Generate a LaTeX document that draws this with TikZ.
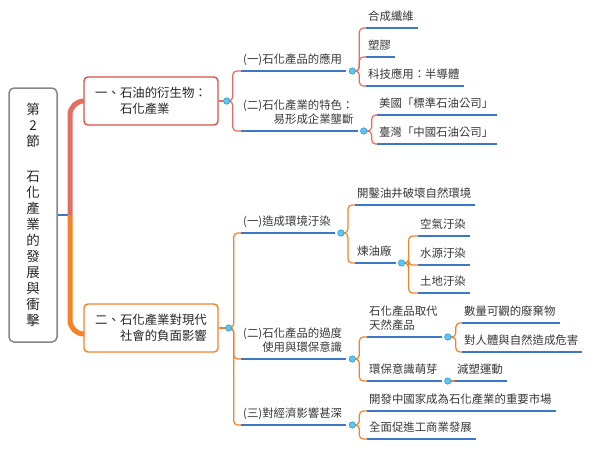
\documentclass[tikz,border=0pt]{standalone}
\usepackage{fontspec}
\setmainfont{Noto Sans CJK TC}
\definecolor{rbr}{RGB}{226,110,95}
\definecolor{rbox}{RGB}{214,82,70}
\definecolor{obr}{RGB}{245,130,40}
\definecolor{uline}{RGB}{60,120,200}
\definecolor{dotin}{RGB}{95,198,242}
\definecolor{dotrim}{RGB}{45,155,222}
\definecolor{rootgray}{RGB}{135,135,135}

\begin{document}
\begin{tikzpicture}[x=1pt,y=-1pt,
  rootbox/.style={draw=rootgray,line width=1.5pt,rounded corners=5pt,minimum width=48pt,minimum height=254pt,align=center,font=\fontsize{13.5}{16}\selectfont,text=black!85},
  mainbox/.style={line width=1.4pt,rounded corners=4pt,minimum width=134pt,minimum height=48pt,align=left,font=\fontsize{12.4}{16.5}\selectfont,text=black!85,fill=white},
  topic/.style={anchor=south west,inner xsep=2pt,inner ysep=6pt,text depth=1.5pt,font=\fontsize{11.4}{13.5}\selectfont,text=black!78},
  ul/.style={draw=uline,line width=2pt},
  rc/.style={draw=rbr,line width=1.2pt,rounded corners=4pt},
  oc/.style={draw=obr,line width=1.2pt,rounded corners=4pt},
  dot/.style={fill=dotin,draw=dotrim,line width=.6pt}]
\path[use as bounding box,fill=white] (0,0) rectangle (600,453);

\node[rootbox] (root) at (33,215) {第\\2\\節\\[19pt]石\\化\\產\\業\\的\\發\\展\\與\\衝\\擊};
\node[mainbox,draw=rbox] (n1) at (151,101) {一、石油的衍生物：\\\hspace*{2em}石化產業};
\node[mainbox,draw=obr] (n2) at (151,328) {二、石化產業對現代\\\hspace*{2em}社會的負面影響};

\node[topic] (s1) at (241,71) {(一)石化產品的應用};
\node[topic,align=right] (s2) at (241,131) {(二)石化產業的特色：\\易形成企業壟斷};
\node[topic] (s3) at (241,233) {(一)造成環境汙染};
\node[topic,align=right] (s4) at (241,359) {(二)石化產品的過度\\使用與環保意識};
\node[topic] (s5) at (241,425) {(三)對經濟影響甚深};

\node[topic] (l1) at (366,28) {合成纖維};
\node[topic] (l2) at (366,57) {塑膠};
\node[topic] (l3) at (366,86) {科技應用：半導體};
\node[topic] (l4) at (377,115) {美國「標準石油公司」};
\node[topic] (l5) at (377,144) {臺灣「中國石油公司」};
\node[topic] (l6) at (355,205) {開鑿油井破壞自然環境};
\node[topic] (l7) at (355,263) {煉油廠};
\node[topic] (l8) at (418,236) {空氣汙染};
\node[topic] (l9) at (418,265) {水源汙染};
\node[topic] (l10) at (418,293) {土地汙染};
\node[topic,align=left] (l11) at (367,337) {石化產品取代\\天然產品};
\node[topic] (l12) at (462,323) {數量可觀的廢棄物};
\node[topic] (l13) at (462,352) {對人體與自然造成危害};
\node[topic] (l14) at (367,381) {環保意識萌芽};
\node[topic] (l15) at (455,381) {減塑運動};
\node[topic] (l16) at (367,411) {開發中國家成為石化產業的重要市場};
\node[topic] (l17) at (367,439) {全面促進工商業發展};

\coordinate (t) at (70,215);
\coordinate (a1) at ([xshift=8pt]n1.east);
\coordinate (a2) at ([xshift=10pt]n2.east);
\coordinate (b1) at ([xshift=8pt]s1.south east);
\coordinate (b2) at ([xshift=8pt]s2.south east);
\coordinate (b3) at ([xshift=8pt]s3.south east);
\coordinate (b4) at ([xshift=8pt]l7.south east);
\coordinate (b5) at ([xshift=8pt]s4.south east);
\coordinate (b6) at ([xshift=8pt]l11.south east);
\coordinate (b7) at ([xshift=8pt]l14.south east);
\coordinate (b8) at ([xshift=8pt]s5.south east);

\draw[ul] (root.east) -- (t);
\draw[draw=rbr,line width=5pt,rounded corners=14pt] (t) |- (n1.west);
\draw[draw=obr,line width=5pt,rounded corners=14pt] (t) |- ([yshift=-6pt]n2.west);

\draw[rc] (n1.east) -- (a1);
\foreach \s in {s1,s2} \draw[rc] (a1) -- ++(6,0) |- (\s.south west);
\foreach \s in {l1,l2,l3} \draw[rc] (b1) -- ++(7,0) |- (\s.south west);
\foreach \s in {l4,l5} \draw[rc] (b2) -- ++(8,0) |- (\s.south west);

\draw[oc] (n2.east) -- (a2);
\foreach \s in {s3,s4,s5} \draw[oc] (a2) -- ++(5,0) |- (\s.south west);
\foreach \s in {l6,l7} \draw[oc] (b3) -- ++(7,0) |- (\s.south west);
\foreach \s in {l8,l9,l10} \draw[oc] (b4) -- ++(7,0) |- (\s.south west);
\foreach \s in {l11,l14} \draw[oc] (b5) -- ++(7,0) |- (\s.south west);
\foreach \s in {l12,l13} \draw[oc] (b6) -- ++(8,0) |- (\s.south west);
\draw[oc] (b7) -- (l15.south west);
\foreach \s in {l16,l17} \draw[oc] (b8) -- ++(7,0) |- (\s.south west);

\foreach \n in {s1,s2,s3,s4,s5,l1,l2,l3,l4,l5,l6,l7,l8,l9,l10,l11,l12,l13,l14,l15,l16,l17}
  \draw[ul] (\n.south west) -- ([xshift=2pt]\n.south east);
\foreach \d in {a1,a2,b1,b2,b3,b4,b5,b6,b7,b8}
  \filldraw[dot] (\d) circle (3.2pt);
\end{tikzpicture}
\end{document}
